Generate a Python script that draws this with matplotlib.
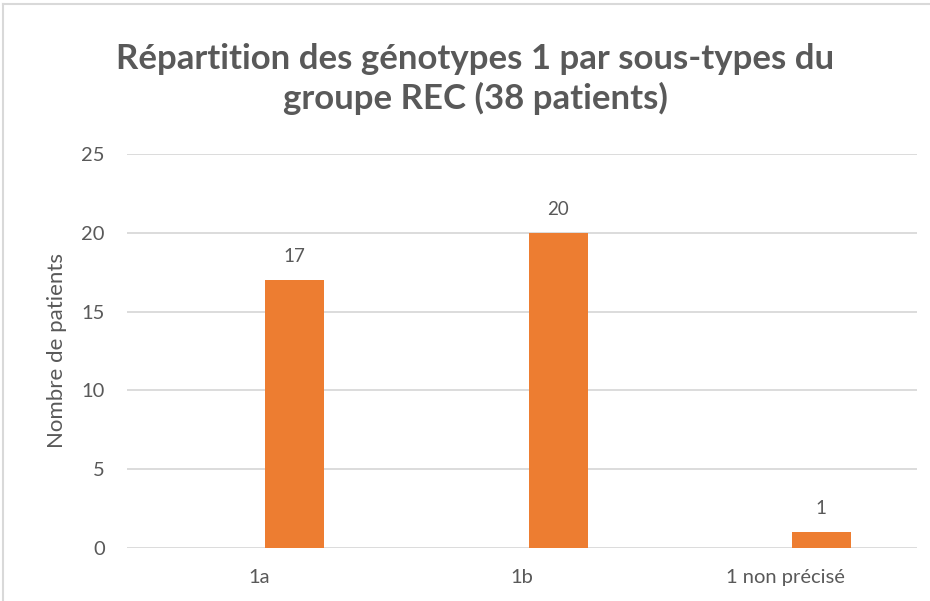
import matplotlib
matplotlib.use("Agg")
import matplotlib.pyplot as plt
from matplotlib.lines import Line2D

categories = ["1a", "1b", "1 non précisé"]
values = [17, 20, 1]
yticks = [0, 5, 10, 15, 20, 25]
title = "Répartition des génotypes 1 par sous-types du\ngroupe REC (38 patients)"
ylabel = "Nombre de patients"

TEXT = "#595959"
BAR = "#ED7D31"
GRID = "#D9D9D9"
FONT = "Lato"

fig = plt.figure(figsize=(9.30, 6.01), dpi=100)
ax = fig.add_axes([127 / 930, 53 / 601, 790 / 930, 394 / 601])

x = list(range(len(categories)))
offset = 0.137
width = 0.224
bars = ax.bar([i + offset for i in x], values, width=width, color=BAR, zorder=3)

for xi, v in zip(x, values):
    ax.annotate(str(v), (xi + offset, v), xytext=(0, 11), textcoords="offset points",
                ha="center", va="bottom", fontsize=13.5, color=TEXT, family=FONT)

ax.set_xlim(-0.5, len(categories) - 0.5)
ax.set_ylim(0, 25)
ax.set_yticks(yticks)
ax.set_yticklabels([str(t) for t in yticks], fontsize=14.5, color=TEXT, family=FONT)
ax.set_xticks(x)
ax.set_xticklabels(categories, fontsize=14.5, color=TEXT, family=FONT)
ax.tick_params(axis="both", length=0)
ax.tick_params(axis="y", pad=16)
ax.tick_params(axis="x", pad=15)
for s in ax.spines.values():
    s.set_visible(False)
ax.yaxis.grid(True, color=GRID, linewidth=1.3, zorder=0)
ax.set_axisbelow(True)

ax.set_ylabel(ylabel, fontsize=16, color=TEXT, family=FONT)
ax.yaxis.set_label_coords(-60 / 790, 0.5)

fig.text(475 / 930, 1 - 79 / 601, title, ha="center", va="center", fontsize=25,
         fontweight="bold", color=TEXT, family=FONT, linespacing=1.25)

# outer frame lines (top and left)
fig.add_artist(Line2D([3 / 930, 3 / 930], [0, 1 - 4 / 601], transform=fig.transFigure,
                      color=GRID, linewidth=1.5))
fig.add_artist(Line2D([3 / 930, 1], [1 - 4 / 601, 1 - 4 / 601], transform=fig.transFigure,
                      color=GRID, linewidth=1.5))

fig.savefig("out.png", dpi=100)
